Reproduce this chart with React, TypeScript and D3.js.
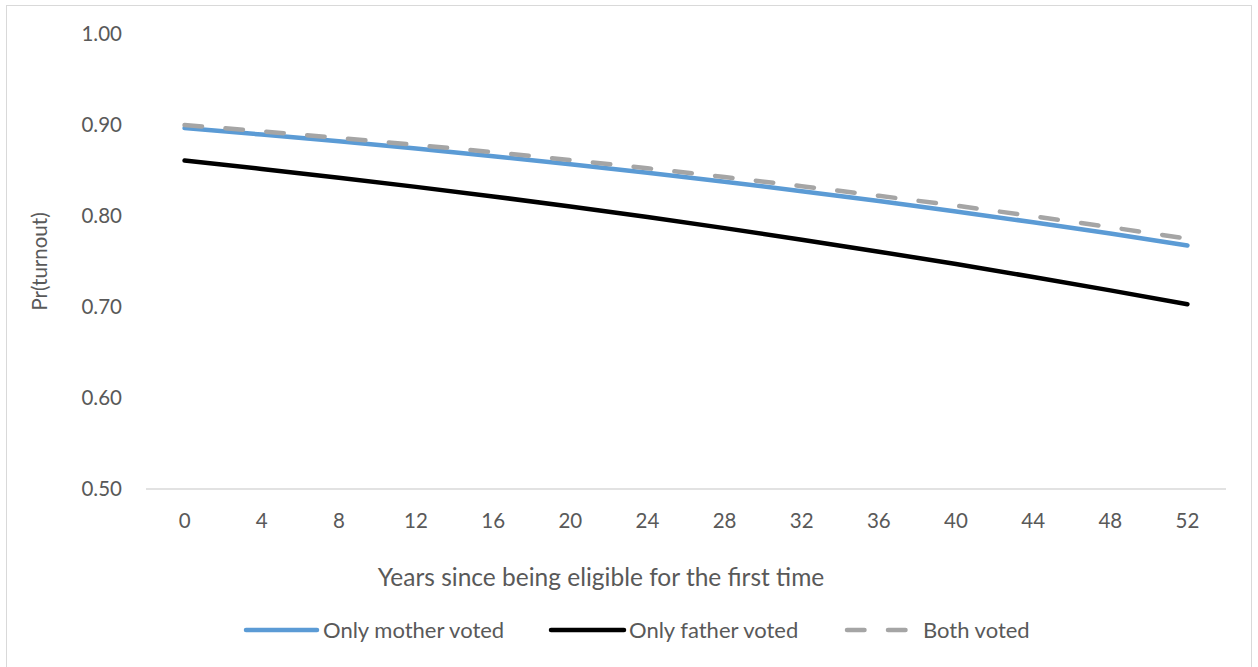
import React from "react";
import * as d3 from "d3";

const years = ["0", "4", "8", "12", "16", "20", "24", "28", "32", "36", "40", "44", "48", "52"];
const onlyMother = [0.8966, 0.8895, 0.8821, 0.8741, 0.8657, 0.8568, 0.8475, 0.8377, 0.8272, 0.8164, 0.805, 0.7931, 0.7807, 0.7676];
const onlyFather = [0.861, 0.8517, 0.8421, 0.832, 0.8215, 0.8104, 0.7989, 0.7867, 0.774, 0.7608, 0.7472, 0.733, 0.7183, 0.7031];
const bothVoted = [0.9, 0.8931, 0.8858, 0.8781, 0.8701, 0.8615, 0.8525, 0.8429, 0.8328, 0.8222, 0.8114, 0.7998, 0.7877, 0.7751];
const yTicks = [0.5, 0.6, 0.7, 0.8, 0.9, 1.0];

const W = 1258;
const H = 667;
const FONT = "Lato, 'Noto Sans', sans-serif";
const TXT = "#595959";

export default function App() {
  const x = d3.scaleBand<string>().domain(years).range([146, 1226]);
  const y = d3.scaleLinear().domain([0.5, 1.0]).range([489, 34]);
  const cx = (d: string) => (x(d) as number) + x.bandwidth() / 2;
  const line = d3
    .line<number>()
    .x((_, i) => cx(years[i]))
    .y((v) => y(v));

  const series = [
    { name: "Only mother voted", data: onlyMother, color: "#5B9BD5", dash: undefined as string | undefined },
    { name: "Only father voted", data: onlyFather, color: "#000000", dash: undefined },
    { name: "Both voted", data: bothVoted, color: "#A5A5A5", dash: "17.5 23.5" },
  ];
  const legend = [
    { x0: 246, x1: 317, tx: 323 },
    { x0: 551, x1: 624, tx: 629 },
    { x0: 847, x1: 906, tx: 923 },
  ];

  return (
    <div style={{ position: "absolute", left: 0, top: 0 }}>
      <svg width={W} height={H} style={{ display: "block" }}>
        <rect x={0} y={0} width={W} height={H} fill="#fff" />
        <rect x={6.5} y={5.5} width={1245} height={670} fill="#fff" stroke="#D9D9D9" strokeWidth={1} />
        <line x1={146} x2={1226} y1={y(0.5)} y2={y(0.5)} stroke="#D9D9D9" strokeWidth={1.5} />
        {yTicks.map((t) => (
          <text key={t} x={122} y={y(t)} dy="0.35em" textAnchor="end" fontFamily={FONT} fontSize={20.5} fill={TXT}>
            {t.toFixed(2)}
          </text>
        ))}
        {years.map((yr) => (
          <text key={yr} x={cx(yr)} y={521} dy="0.35em" textAnchor="middle" fontFamily={FONT} fontSize={20.5} fill={TXT}>
            {yr}
          </text>
        ))}
        <text
          transform={`translate(40,${(y(0.5) + y(1.0)) / 2}) rotate(-90)`}
          textAnchor="middle"
          dy="0.35em"
          fontFamily={FONT}
          fontSize={20.5}
          fill={TXT}
        >
          Pr(turnout)
        </text>
        <text x={601} y={577} dy="0.35em" textAnchor="middle" fontFamily={FONT} fontSize={24.5} fill={TXT}>
          Years since being eligible for the first time
        </text>
        {series.map((s) => (
          <path
            key={s.name}
            d={line(s.data) || ""}
            fill="none"
            stroke={s.color}
            strokeWidth={4.5}
            strokeLinecap="round"
            strokeLinejoin="round"
            strokeDasharray={s.dash}
          />
        ))}
        {series.map((s, i) => (
          <g key={s.name}>
            <line
              x1={legend[i].x0}
              x2={legend[i].x1}
              y1={630}
              y2={630}
              stroke={s.color}
              strokeWidth={4.5}
              strokeLinecap="round"
              strokeDasharray={s.dash}
            />
            <text x={legend[i].tx} y={630} dy="0.35em" fontFamily={FONT} fontSize={22} fill={TXT}>
              {s.name}
            </text>
          </g>
        ))}
      </svg>
    </div>
  );
}
